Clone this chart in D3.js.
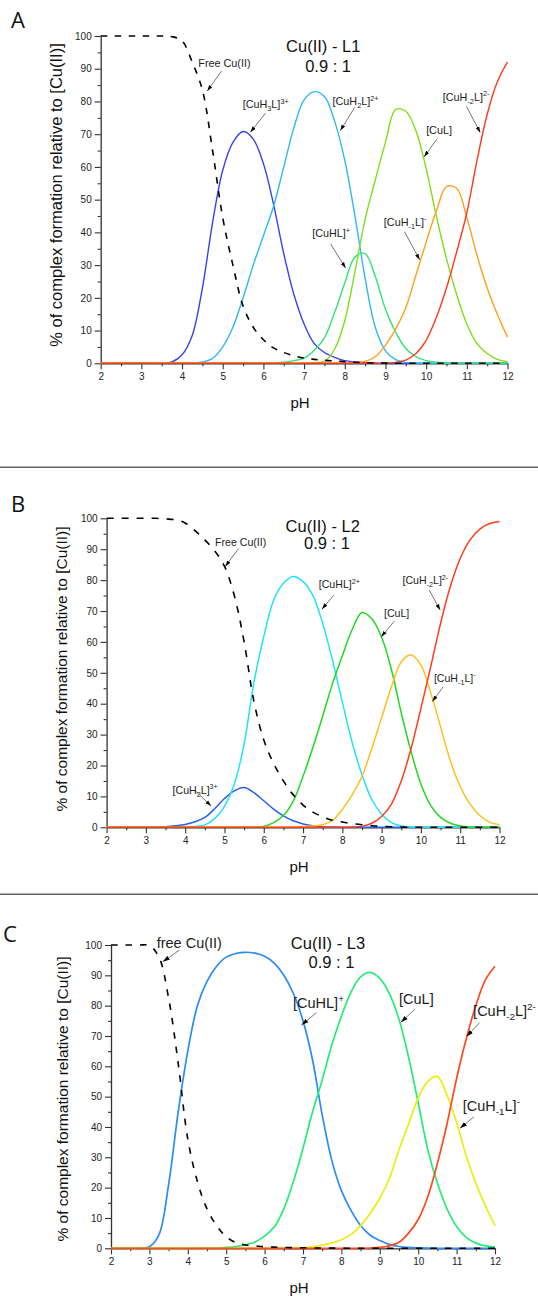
<!DOCTYPE html>
<html>
<head>
<meta charset="UTF-8">
<script src="https://d3js.org/d3.v7.min.js"></script>
<style>
  * { margin: 0; padding: 0; }
  body { background: #fff; width: 538px; height: 1296px; overflow: hidden; }
  svg { display: block; font-family: "Liberation Sans", Arial, sans-serif; }
</style>
</head>
<body>
<div id="chart"></div>
<script>
// pH grid shared by every curve
const pH = [2,2.25,2.5,2.75,3,3.25,3.5,3.75,4,4.25,4.5,4.75,5,5.25,5.5,5.75,6,6.25,6.5,6.75,
            7,7.25,7.5,7.75,8,8.25,8.5,8.75,9,9.25,9.5,9.75,10,10.25,10.5,10.75,11,11.25,11.5,11.75,12];

const xTicks = [2,3,4,5,6,7,8,9,10,11,12];
const xMinor = [2.5,3.5,4.5,5.5,6.5,7.5,8.5,9.5,10.5,11.5];
const yTicks = [0,10,20,30,40,50,60,70,80,90,100];
const yMinor = [5,15,25,35,45,55,65,75,85,95];

// --- A : Cu(II) - L1
const freeA    = [100,100,100,100,100,100,100,99.8,98.5,92,83.5,65,44.5,30,17.5,11,7.2,4.7,3.3,2.3,1.6,1.2,0.9,0.7,0.5,0.3,0.2,0.1,0.05,0,0,0,0,0,0,0,0,0,0,0,0];
const cuH3L_A  = [0,0,0,0,0,0,0,0.4,2.6,8.5,23,43,59,67.5,70.8,68.5,61,48.5,33.5,21,12,6,3.3,1.8,0.8,0.4,0.2,0.1,0,0,0,0,0,0,0,0,0,0,0,0,0];
const cuH2L_A  = [0,0,0,0,0,0,0,0,0,0.1,0.4,1.5,5,11,20,30,39,48,60,72,80.5,83,81.5,74,62,45,26,11,3.8,1.1,0.3,0.1,0,0,0,0,0,0,0,0,0];
const cuHL_A   = [0,0,0,0,0,0,0,0,0,0,0,0,0,0,0,0,0,0.1,0.3,0.8,1.6,4,7.8,15.5,24.5,32.5,33.5,26.5,16.5,9.5,4.5,2,0.8,0.3,0.1,0,0,0,0,0,0];
const cuL_A    = [0,0,0,0,0,0,0,0,0,0,0,0,0,0,0,0,0,0,0,0,0,0.2,0.6,4.3,13,28,44,56,67.5,77.5,77,71,59.5,45,32,21,12,6,3,1.2,0.5];
const cuHm1L_A = [0,0,0,0,0,0,0,0,0,0,0,0,0,0,0,0,0,0,0,0,0,0,0,0,0,0.2,0.6,2,5.5,10.5,17,27,37,46.5,54,53.5,44.5,33,23,15,8];
const cuHm2L_A = [0,0,0,0,0,0,0,0,0,0,0,0,0,0,0,0,0,0,0,0,0,0,0,0,0,0,0,0,0,0.3,1,3,7,14,23,34,46,62,76,86,92];

// --- B : Cu(II) - L2
const freeB    = [100,100,100,100,100,100,99.8,99.5,98.5,96,93,89.5,84.5,75,60,40.7,28.3,20.7,15,10.5,7.2,4.9,3.4,2.3,1.7,1.2,0.85,0.5,0.3,0.2,0.1,0,0,0,0,0,0,0,0,0,0];
const cuH2L_B  = [0,0,0,0,0,0.05,0.2,0.5,0.9,1.8,3.2,6,9.3,11.8,12.9,11.2,8.6,5.9,3.7,2.1,1.1,0.5,0.2,0.1,0,0,0,0,0,0,0,0,0,0,0,0,0,0,0,0,0];
const cuHL_B   = [0,0,0,0,0,0,0,0,0.1,0.3,0.8,2.8,6.8,14,27,47,61.7,73.5,79,81.2,79.5,75,66,54,40.5,27.5,17,9,4.2,1.5,0.4,0.1,0,0,0,0,0,0,0,0,0];
const cuL_B    = [0,0,0,0,0,0,0,0,0,0,0,0,0,0,0,0.1,0.3,1.5,3.8,8.5,16.5,25.8,36,46.5,55.5,64,69.5,67.5,61.5,51,37,24.5,14,7,3.2,1.3,0.4,0.1,0,0,0];
const cuHm1L_B = [0,0,0,0,0,0,0,0,0,0,0,0,0,0,0,0,0,0,0,0.1,0.2,0.4,0.8,2.2,5.8,10.5,16.5,25.5,35.5,45.5,53.5,55.8,52.5,43.5,32.5,21.5,13.2,7.5,3.8,1.6,0.8];
const cuHm2L_B = [0,0,0,0,0,0,0,0,0,0,0,0,0,0,0,0,0,0,0,0,0,0,0,0,0,0.1,0.3,1.3,3.5,7.5,15,25.5,38.5,52,66,78,87,93,96.5,98.3,99];

// --- C : Cu(II) - L3
const freeC    = [100,100,100,100,99.8,96,82.5,61,36,22,13,7.5,3.8,1.9,1.1,0.8,0.5,0.4,0.3,0.2,0.2,0.1,0.1,0.05,0.05,0,0,0,0,0,0,0,0,0,0,0,0,0,0,0,0];
const cuHL_C   = [0,0,0,0,0.5,4.5,21,45,65,80,88,93,96,97.2,97.6,97.3,96.3,94,90,84,75,62,44,29,19,12.5,7.5,4.3,2.6,1.3,0.6,0.3,0.15,0.05,0,0,0,0,0,0,0];
const cuL_C    = [0,0,0,0,0,0,0,0,0,0,0.05,0.1,0.3,0.6,1.2,2.1,4,7,13,22,33,45,55.5,67,76.5,84.5,89.5,91,89,84,75.5,63,48,32.5,21.5,13,7.2,3.6,1.7,0.8,0.4];
const cuHm1L_C = [0,0,0,0,0,0,0,0,0,0,0,0,0,0,0,0,0,0,0.05,0.1,0.2,0.5,1,1.7,2.8,4.5,7.5,11.5,16.5,23,32.5,41,49.5,55,56.6,50.5,41.5,30.5,21.5,14,7.5];
const cuHm2L_C = [0,0,0,0,0,0,0,0,0,0,0,0,0,0,0,0,0,0,0,0,0,0,0,0,0,0,0,0.1,0.3,0.8,2,5,9.5,17,28,41,56,69,80,88.5,93];

// annotations: text anchor (pH, %), arrow from -> to
const labelsA = [
  {t: "Free Cu(II)",        at: [4.40, 90.6], from: [4.97, 89.3], to: [4.62, 83.2]},
  {t: "[CuH_{3}L]^{3+}",    at: [5.49, 77.9], from: [6.05, 76.4], to: [5.68, 70.6]},
  {t: "[CuH_{2}L]^{2+}",    at: [7.70, 78.9], from: [8.24, 78.1], to: [7.89, 71.1]},
  {t: "[CuHL]^{+}",         at: [7.20, 38.5], from: [7.65, 36.5], to: [8.02, 29.1]},
  {t: "[CuL]",              at: [10.0, 70.1], from: [10.27, 68.6], to: [9.95, 63.1]},
  {t: "[CuH_{-1}L]^{-}",    at: [8.96, 42.0], from: [9.47, 40.2], to: [9.84, 31.6]},
  {t: "[CuH_{-2}L]^{2-}",   at: [10.41, 80.2], from: [10.99, 78.5], to: [11.33, 70.5]}
];
const labelsB = [
  {t: "Free Cu(II)",        at: [4.76, 91.0], from: [5.36, 90.2], to: [5.02, 84.4]},
  {t: "[CuHL]^{2+}",        at: [7.40, 77.3], from: [7.78, 75.1], to: [7.48, 70.6]},
  {t: "[CuL]",              at: [9.06, 68.0], from: [9.33, 66.8], to: [8.99, 61.7]},
  {t: "[CuH_{-2}L]^{2-}",   at: [9.53, 78.7], from: [10.21, 76.8], to: [10.49, 70.3]},
  {t: "[CuH_{-1}L]^{-}",    at: [10.33, 47.1], from: [10.57, 45.5], to: [10.29, 40.7]},
  {t: "[CuH_{2}L]^{3+}",    at: [3.68, 10.8], from: [4.25, 11.9], to: [4.66, 6.9]}
];
const labelsC = [
  {t: "free Cu(II)",        at: [3.19, 98.9], from: [3.78, 98.3], to: [3.35, 94.5]},
  {t: "[CuHL]^{+}",         at: [6.74, 79.1], from: [7.35, 77.7], to: [6.96, 73.6]},
  {t: "[CuL]",              at: [9.50, 80.5], from: [9.91, 78.8], to: [9.55, 74.5]},
  {t: "[CuH_{-2}L]^{2-}",   at: [11.43, 76.6], from: [11.60, 74.4], to: [11.26, 69.8]},
  {t: "[CuH_{-1}L]^{-}",    at: [11.16, 45.4], from: [11.45, 43.3], to: [11.09, 39.6]}
];

const panels = [
  {letter: "A", letterPos: [11, 27.5], xr: [100.7, 507.5], yr: [363.3, 36],
   title: "Cu(II) - L1", titleAt: [7.47, 95.2], ratioAt: [7.59, 89.1],
   yTitle: [61.5, 195], yTitleSize: 16.5, labelSize: 10.8, lw: 1.4, dash: "6.5,7.5", head: 6,
   series: [
     {v: cuH3L_A, c: "#3445ee"}, {v: cuH2L_A, c: "#2fb8f7"}, {v: cuHL_A, c: "#33e373"},
     {v: cuL_A, c: "#80de1a"}, {v: cuHm1L_A, c: "#ff9f1c"}, {v: cuHm2L_A, c: "#ff3b1f"},
     {v: freeA, c: "#000", dashed: true}],
   labels: labelsA},
  {letter: "B", letterPos: [11, 511.7], xr: [106.6, 499.5], yr: [827.3, 518.3],
   title: "Cu(II) - L2", titleAt: [7.50, 95.7], ratioAt: [7.61, 90.0],
   yTitle: [67, 669], yTitleSize: 15.5, labelSize: 10.6, lw: 1.5, dash: "7,8", head: 6,
   series: [
     {v: cuH2L_B, c: "#2462ee"}, {v: cuHL_B, c: "#22e2fa"}, {v: cuL_B, c: "#22d822"},
     {v: cuHm1L_B, c: "#ffbf1f"}, {v: cuHm2L_B, c: "#ff3d1a"},
     {v: freeB, c: "#000", dashed: true}],
   labels: labelsB},
  {letter: "C", letterPos: [3, 941.7], xr: [111, 495], yr: [1248.3, 945],
   title: "Cu(II) - L3", titleAt: [7.65, 98.7], ratioAt: [7.74, 92.3],
   yTitle: [68, 1099], yTitleSize: 15.5, labelSize: 14.5, lw: 1.7, dash: "6.5,8", head: 7,
   series: [
     {v: cuHL_C, c: "#2b8cf4"}, {v: cuL_C, c: "#26ec78"}, {v: cuHm1L_C, c: "#eded10"},
     {v: cuHm2L_C, c: "#ff4a1f"},
     {v: freeC, c: "#000", dashed: true}],
   labels: labelsC}
];

const svg = d3.select("#chart").append("svg").attr("width", 538).attr("height", 1296);
const defs = svg.append("defs");
[6, 7].forEach(s => {
  defs.append("marker").attr("id", "head" + s)
    .attr("viewBox", "0 0 10 10").attr("refX", 10).attr("refY", 5)
    .attr("markerWidth", s).attr("markerHeight", s)
    .attr("markerUnits", "userSpaceOnUse").attr("orient", "auto")
    .append("path").attr("d", "M0,1.8L10,5L0,8.2Z").attr("fill", "#000");
});

// separators between the three panels
[467.3, 894.3].forEach(yy => {
  svg.append("line").attr("x1", 0).attr("x2", 538).attr("y1", yy).attr("y2", yy)
     .attr("stroke", "#666").attr("stroke-width", 1.4);
});

function richText(sel, str, size) {
  const re = /([_^])\{([^}]*)\}|([^_^]+)/g;
  let m, cur = 0;
  while ((m = re.exec(str))) {
    const kind = m[3] ? 0 : (m[1] === "^" ? -1 : 1);
    const txt = m[3] || m[2];
    const shift = kind === -1 ? -0.42 * size : kind === 1 ? 0.28 * size : 0;
    sel.append("tspan").attr("dy", shift - cur)
       .attr("font-size", kind ? size * 0.68 : size).text(txt);
    cur = shift;
  }
}

panels.forEach(p => {
  const g = svg.append("g");
  const x = d3.scaleLinear().domain([2, 12]).range(p.xr);
  const y = d3.scaleLinear().domain([0, 100]).range(p.yr);

  // axes
  const gx = g.append("g").attr("transform", `translate(0,${p.yr[0]})`)
    .attr("color", "#333").attr("font-size", 13.5).attr("font-family", "Liberation Sans, Arial, sans-serif");
  gx.call(d3.axisBottom(x).tickValues(xTicks).tickSize(6).tickSizeOuter(0).tickPadding(4).tickFormat(d3.format("d")));
  gx.append("g").call(d3.axisBottom(x).tickValues(xMinor).tickSize(3).tickFormat(""))
    .select(".domain").remove();
  const gy = g.append("g").attr("transform", `translate(${p.xr[0]},0)`)
    .attr("color", "#333").attr("font-size", 13.5).attr("font-family", "Liberation Sans, Arial, sans-serif");
  gy.call(d3.axisLeft(y).tickValues(yTicks).tickSize(6).tickSizeOuter(0).tickPadding(3));
  gy.append("g").call(d3.axisLeft(y).tickValues(yMinor).tickSize(3).tickFormat(""))
    .select(".domain").remove();
  g.selectAll(".domain").attr("stroke-width", 1.3);
  g.selectAll(".tick line").attr("stroke-width", 1.1);
  g.selectAll(".tick text").attr("fill", "#222");

  // curves
  const line = d3.line().x((d, i) => x(pH[i])).y(d => y(d)).curve(d3.curveCatmullRom.alpha(0.5));
  p.series.forEach(s => {
    g.append("path").attr("d", line(s.v)).attr("fill", "none")
      .attr("stroke", s.c).attr("stroke-width", s.dashed ? 1.6 : p.lw)
      .attr("stroke-dasharray", s.dashed ? p.dash : null);
  });

  // labels with arrows
  p.labels.forEach(l => {
    g.append("line")
      .attr("x1", x(l.from[0])).attr("y1", y(l.from[1]))
      .attr("x2", x(l.to[0])).attr("y2", y(l.to[1]))
      .attr("stroke", "#555").attr("stroke-width", 0.8)
      .attr("marker-end", `url(#head${p.head})`);
    const t = g.append("text").attr("x", x(l.at[0])).attr("y", y(l.at[1]))
      .attr("fill", "#222").attr("font-size", p.labelSize);
    richText(t, l.t, p.labelSize);
  });

  // titles
  g.append("text").attr("x", x(p.titleAt[0])).attr("y", y(p.titleAt[1]))
    .attr("text-anchor", "middle").attr("font-size", 16.5).attr("fill", "#111").text(p.title);
  g.append("text").attr("x", x(p.ratioAt[0])).attr("y", y(p.ratioAt[1]))
    .attr("text-anchor", "middle").attr("font-size", 16.5).attr("fill", "#111").text("0.9 : 1");

  // axis titles
  g.append("text").attr("x", (p.xr[0] + p.xr[1]) / 2 - 4).attr("y", p.yr[0] + 45)
    .attr("text-anchor", "middle").attr("font-size", 15).attr("fill", "#111").text("pH");
  g.append("text")
    .attr("transform", `translate(${p.yTitle[0]},${p.yTitle[1]}) rotate(-90)`)
    .attr("text-anchor", "middle").attr("font-size", p.yTitleSize).attr("fill", "#111")
    .text("% of complex formation relative to [Cu(II)]");

  // panel letter
  svg.append("text").attr("x", p.letterPos[0]).attr("y", p.letterPos[1])
    .attr("font-family", "Open Sans, Noto Sans, sans-serif").attr("font-size", 22)
    .attr("fill", "#111").text(p.letter);
});
</script>
</body>
</html>
